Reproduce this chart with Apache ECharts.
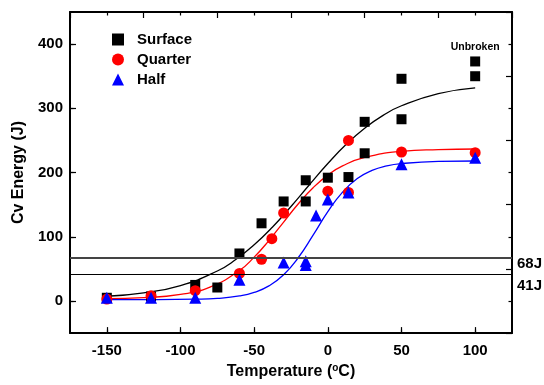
<!DOCTYPE html>
<html>
<head>
<meta charset="utf-8">
<script src="https://cdn.jsdelivr.net/npm/echarts@6/dist/echarts.min.js"></script>
<style>html,body{margin:0;padding:0;background:#fff}#c{width:544px;height:385px}</style>
</head>
<body>
<div id="c"></div>
<script>
// measured points
var surfaceT = [-150, -120, -90, -75, -60, -45, -30, -15, -15, 0, 14, 25, 25, 50, 50, 100, 100];
var surfaceE = [5, 7, 25, 21, 74, 121, 155, 188, 155, 192, 193, 279, 230, 346, 283, 373, 350];
var quarterT = [-150, -120, -90, -60, -45, -38, -30, 0, 14, 14, 50, 100];
var quarterE = [3, 8, 16, 43, 65, 97, 137, 171, 250, 169, 232, 231];
var halfT = [-150, -120, -90, -60, -30, -15, -15, -8, 0, 14, 50, 100];
var halfE = [5, 5, 5, 33, 60, 62, 56, 133, 158, 169, 213, 223];
// fitted curves
var surfFitT = [-150, -125, -100, -75, -62.5, -50, -37.5, -25, -12.5, 0, 12.5, 25, 37.5, 50, 75, 100];
var surfFitE = [7.4, 12.8, 24.1, 46.7, 64.5, 87.4, 115.2, 147.2, 181, 214, 244, 269, 289, 304, 323, 332];
var quartFitT = [-150, -125, -100, -80, -60, -50, -40, -30, -20, -10, 0, 10, 25, 50, 75, 100];
var quartFitE = [3.6, 5.1, 10.3, 21.6, 47.5, 68.3, 94.1, 122.9, 151.4, 176.4, 196, 210.3, 223.5, 233, 235.8, 236.7];
var halfFitT = [-150, -120, -90, -75, -60, -50, -40, -30, -20, -10, 0, 10, 20, 30, 40, 50, 75, 100];
var halfFitE = [2, 2.1, 2.8, 4.1, 7.8, 13.3, 23.5, 40.9, 67.7, 102.5, 139, 169.6, 190.6, 203.3, 210.4, 214, 217.3, 218];
var xTicks = [-150, -100, -50, 0, 50, 100];
var yTicks = [0, 100, 200, 300, 400];
var refLevels = [68, 41];
var refLabels = ['68J', '41J'];

function pairs(a, b) { return a.map(function (v, i) { return [v, b[i]]; }); }

var FONT = 'Liberation Sans, Arial, sans-serif';
var surfData = pairs(surfaceT, surfaceE);
surfData[15] = { value: surfData[15], label: { show: true, position: 'top', distance: 4, formatter: 'Unbroken', fontFamily: FONT, fontWeight: 'bold', fontSize: 10.5, color: '#000' } };

var chart = echarts.init(document.getElementById('c'));
var axisCommon = {
  type: 'value', min: -175, max: 125, interval: 50,
  axisLine: { show: true, onZero: false, lineStyle: { color: '#000', width: 2 } },
  axisTick: { show: true, inside: true, length: 6, lineStyle: { color: '#000', width: 1.2 } },
  minorTick: { show: true, splitNumber: 2, length: 3.5, lineStyle: { color: '#000', width: 1.2 } },
  splitLine: { show: false }
};
chart.setOption({
  animation: false,
  backgroundColor: '#fff',
  grid: { left: 70, right: 32, top: 12, bottom: 48 },
  legend: {
    orient: 'vertical', left: 107, top: 27, itemWidth: 12, itemHeight: 12, itemGap: 5,
    data: [{ name: 'Surface', icon: 'rect' }, { name: 'Quarter', icon: 'circle' }, { name: 'Half', icon: 'triangle' }],
    textStyle: { fontFamily: FONT, fontWeight: 'bold', fontSize: 15, color: '#000', padding: [0, 0, 0, 8] }
  },
  xAxis: [
    Object.assign({}, axisCommon, {
      position: 'bottom',
      name: '{n|Temperature (}{s|o}{n|C)}', nameLocation: 'middle', nameGap: 19,
      nameTextStyle: { rich: { n: { fontFamily: FONT, fontWeight: 'bold', fontSize: 16, color: '#000' }, s: { fontFamily: FONT, fontWeight: 'bold', fontSize: 10, color: '#000', verticalAlign: 'top', padding: [0, 0, 8, 0] } } },
      axisLabel: { margin: 10, fontFamily: FONT, fontWeight: 'bold', fontSize: 15, color: '#000', customValues: xTicks },
      axisTick: Object.assign({}, axisCommon.axisTick, { customValues: xTicks })
    }),
    Object.assign({}, axisCommon, { position: 'top', axisLabel: { show: false } })
  ],
  yAxis: [
    Object.assign({}, axisCommon, {
      min: -50, max: 450, interval: 100, position: 'left',
      name: 'Cv Energy (J)', nameLocation: 'middle', nameGap: 36, nameRotate: 90,
      nameTextStyle: { fontFamily: FONT, fontWeight: 'bold', fontSize: 16, color: '#000' },
      axisLabel: { margin: 7, fontFamily: FONT, fontWeight: 'bold', fontSize: 15, color: '#000', customValues: yTicks },
      axisTick: Object.assign({}, axisCommon.axisTick, { customValues: yTicks })
    }),
    Object.assign({}, axisCommon, { min: -50, max: 450, interval: 100, position: 'right', axisLabel: { show: false } })
  ],
  series: [
    { name: 'SurfaceFit', type: 'line', data: pairs(surfFitT, surfFitE), smooth: true, showSymbol: false, silent: true, lineStyle: { color: '#000', width: 1.3 }, z: 1 },
    { name: 'QuarterFit', type: 'line', data: pairs(quartFitT, quartFitE), smooth: true, showSymbol: false, silent: true, lineStyle: { color: '#ff0000', width: 1.3 }, z: 1 },
    { name: 'HalfFit', type: 'line', data: pairs(halfFitT, halfFitE), smooth: true, showSymbol: false, silent: true, lineStyle: { color: '#0000ff', width: 1.3 }, z: 1 },
    {
      name: 'Ref', type: 'line', data: [], silent: true,
      markLine: {
        symbol: 'none', silent: true, animation: false,
        data: [
          { yAxis: refLevels[0], lineStyle: { color: '#444', width: 2, type: 'solid' }, label: { formatter: refLabels[0], offset: [0, 7] } },
          { yAxis: refLevels[1], lineStyle: { color: '#000', width: 1.2, type: 'solid' }, label: { formatter: refLabels[1], offset: [0, 11] } }
        ],
        label: { position: 'end', distance: 5, fontFamily: FONT, fontWeight: 'bold', fontSize: 15, color: '#000' }
      }
    },
    { name: 'Surface', type: 'scatter', symbol: 'rect', symbolSize: 10, data: surfData, itemStyle: { color: '#000', opacity: 1 }, z: 3 },
    { name: 'Quarter', type: 'scatter', symbol: 'circle', symbolSize: 11, data: pairs(quarterT, quarterE), itemStyle: { color: '#ff0000', opacity: 1 }, z: 3 },
    { name: 'Half', type: 'scatter', symbol: 'triangle', symbolSize: 12, data: pairs(halfT, halfE), itemStyle: { color: '#0000ff', opacity: 1 }, z: 3 }
  ]
});
</script>
</body>
</html>
